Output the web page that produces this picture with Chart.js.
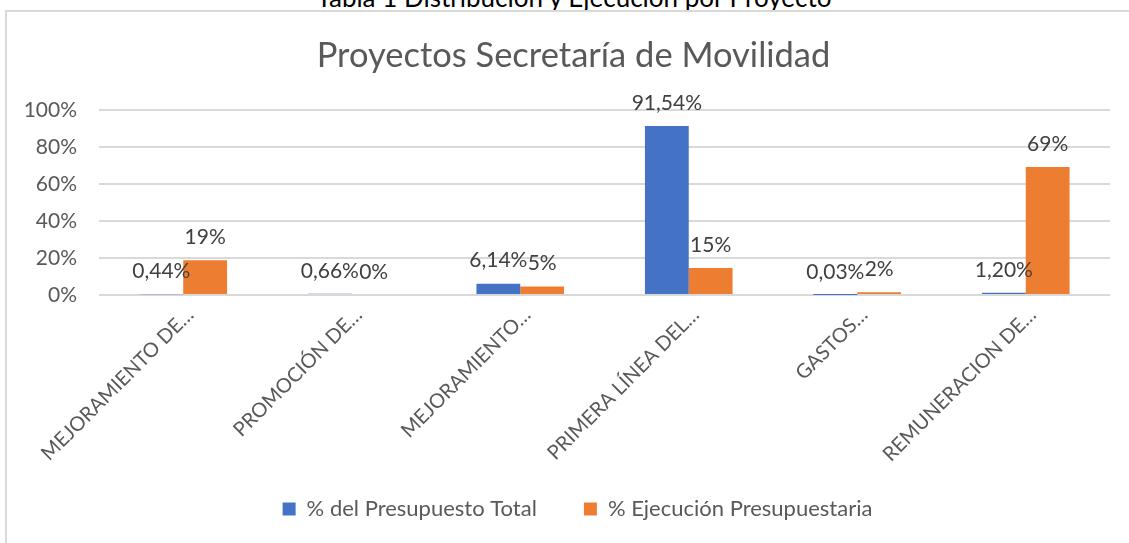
<!DOCTYPE html>
<html>
<head>
<meta charset="utf-8">
<script src="https://cdn.jsdelivr.net/npm/chart.js@4"></script>
<style>
  body { margin: 0; background: #fff; overflow: hidden; }
  #wrap { position: relative; width: 1129px; height: 543px; }
  #caption {
    position: absolute; left: 0; width: 1148px; top: -19px;
    text-align: center; font: 26px Lato, sans-serif; color: #000;
  }
  .edge { position: absolute; background: #d9d9d9; }
  canvas { position: absolute; left: 0; top: 0; }
</style>
</head>
<body>
<div id="wrap">
  <div id="caption">Tabla 1 Distribución y Ejecución por Proyecto</div>
  <div class="edge" style="left:5px;top:10px;width:1124px;height:2px"></div>
  <div class="edge" style="left:5px;top:10px;width:2px;height:533px"></div>
  <canvas id="chart" width="1129" height="543"></canvas>
</div>
<script>
const proyectos = [
  "MEJORAMIENTO DE…",
  "PROMOCIÓN DE…",
  "MEJORAMIENTO…",
  "PRIMERA LÍNEA DEL…",
  "GASTOS…",
  "REMUNERACION DE…"
];
const presupuestoTotal = [0.44, 0.66, 6.14, 91.54, 0.03, 1.20];
const ejecucion = [18.8, 0, 4.6, 14.6, 1.5, 69.3];
const yTicks = [0, 20, 40, 60, 80, 100];

const grey = '#595959';

// etiquetas encima de cada barra
const barLabels = {
  id: 'barLabels',
  afterDatasetsDraw(chart) {
    const ctx = chart.ctx;
    ctx.save();
    ctx.font = '21px Lato, sans-serif';
    ctx.fillStyle = '#404040';
    ctx.textAlign = 'center';
    ctx.textBaseline = 'middle';
    chart.data.datasets.forEach((ds, i) => {
      chart.getDatasetMeta(i).data.forEach((bar, j) => {
        const v = ds.data[j];
        const txt = i === 0
          ? v.toFixed(2).replace('.', ',') + '%'
          : Math.round(v) + '%';
        ctx.fillText(txt, bar.x, bar.y - 23);
      });
    });
    ctx.restore();
  }
};

// ajustes finos de posición (título, leyenda, recorte de etiquetas)
const tweaks = {
  id: 'tweaks',
  afterLayout(chart) {
    chart.scales.x.bottom += 40;
  },
  afterUpdate(chart) {
    chart.titleBlock.left += 16;
    chart.titleBlock.right += 16;
    chart.legend.left += 20;
    chart.legend.right += 20;
  }
};

new Chart(document.getElementById('chart'), {
  type: 'bar',
  data: {
    labels: proyectos,
    datasets: [
      {
        label: '% del Presupuesto Total',
        data: presupuestoTotal,
        backgroundColor: '#4472C4',
        categoryPercentage: 0.52,
        barPercentage: 1
      },
      {
        label: '% Ejecución Presupuestaria',
        data: ejecucion,
        backgroundColor: '#ED7D31',
        categoryPercentage: 0.52,
        barPercentage: 1
      }
    ]
  },
  options: {
    responsive: false,
    animation: false,
    layout: { padding: { left: 5, right: 19, top: 10, bottom: 13 } },
    plugins: {
      title: {
        display: true,
        text: 'Proyectos Secretaría de Movilidad',
        color: grey,
        font: { family: 'Lato', size: 34.5, weight: 'normal' },
        padding: { top: 25, bottom: 34 }
      },
      legend: {
        position: 'bottom',
        labels: {
          color: grey,
          font: { family: 'Lato', size: 22 },
          boxWidth: 13,
          boxHeight: 13,
          padding: 47
        }
      },
      tooltip: { enabled: false }
    },
    scales: {
      x: {
        grid: { display: false },
        border: { display: false },
        ticks: {
          color: grey,
          font: { family: 'Lato', size: 20 },
          maxRotation: 45,
          minRotation: 45,
          padding: 0,
          labelOffset: 7
        },
        afterFit(scale) { scale.height = 156; }
      },
      y: {
        min: 0,
        max: 100,
        border: { display: false },
        grid: { color: '#d9d9d9', lineWidth: 2, drawTicks: false },
        afterBuildTicks(scale) { scale.ticks = yTicks.map(v => ({ value: v })); },
        ticks: {
          color: grey,
          font: { family: 'Lato', size: 21 },
          padding: 22,
          callback: v => v + '%'
        },
        afterFit(scale) { scale.width = 94; }
      }
    }
  },
  plugins: [barLabels, tweaks]
});
</script>
</body>
</html>
